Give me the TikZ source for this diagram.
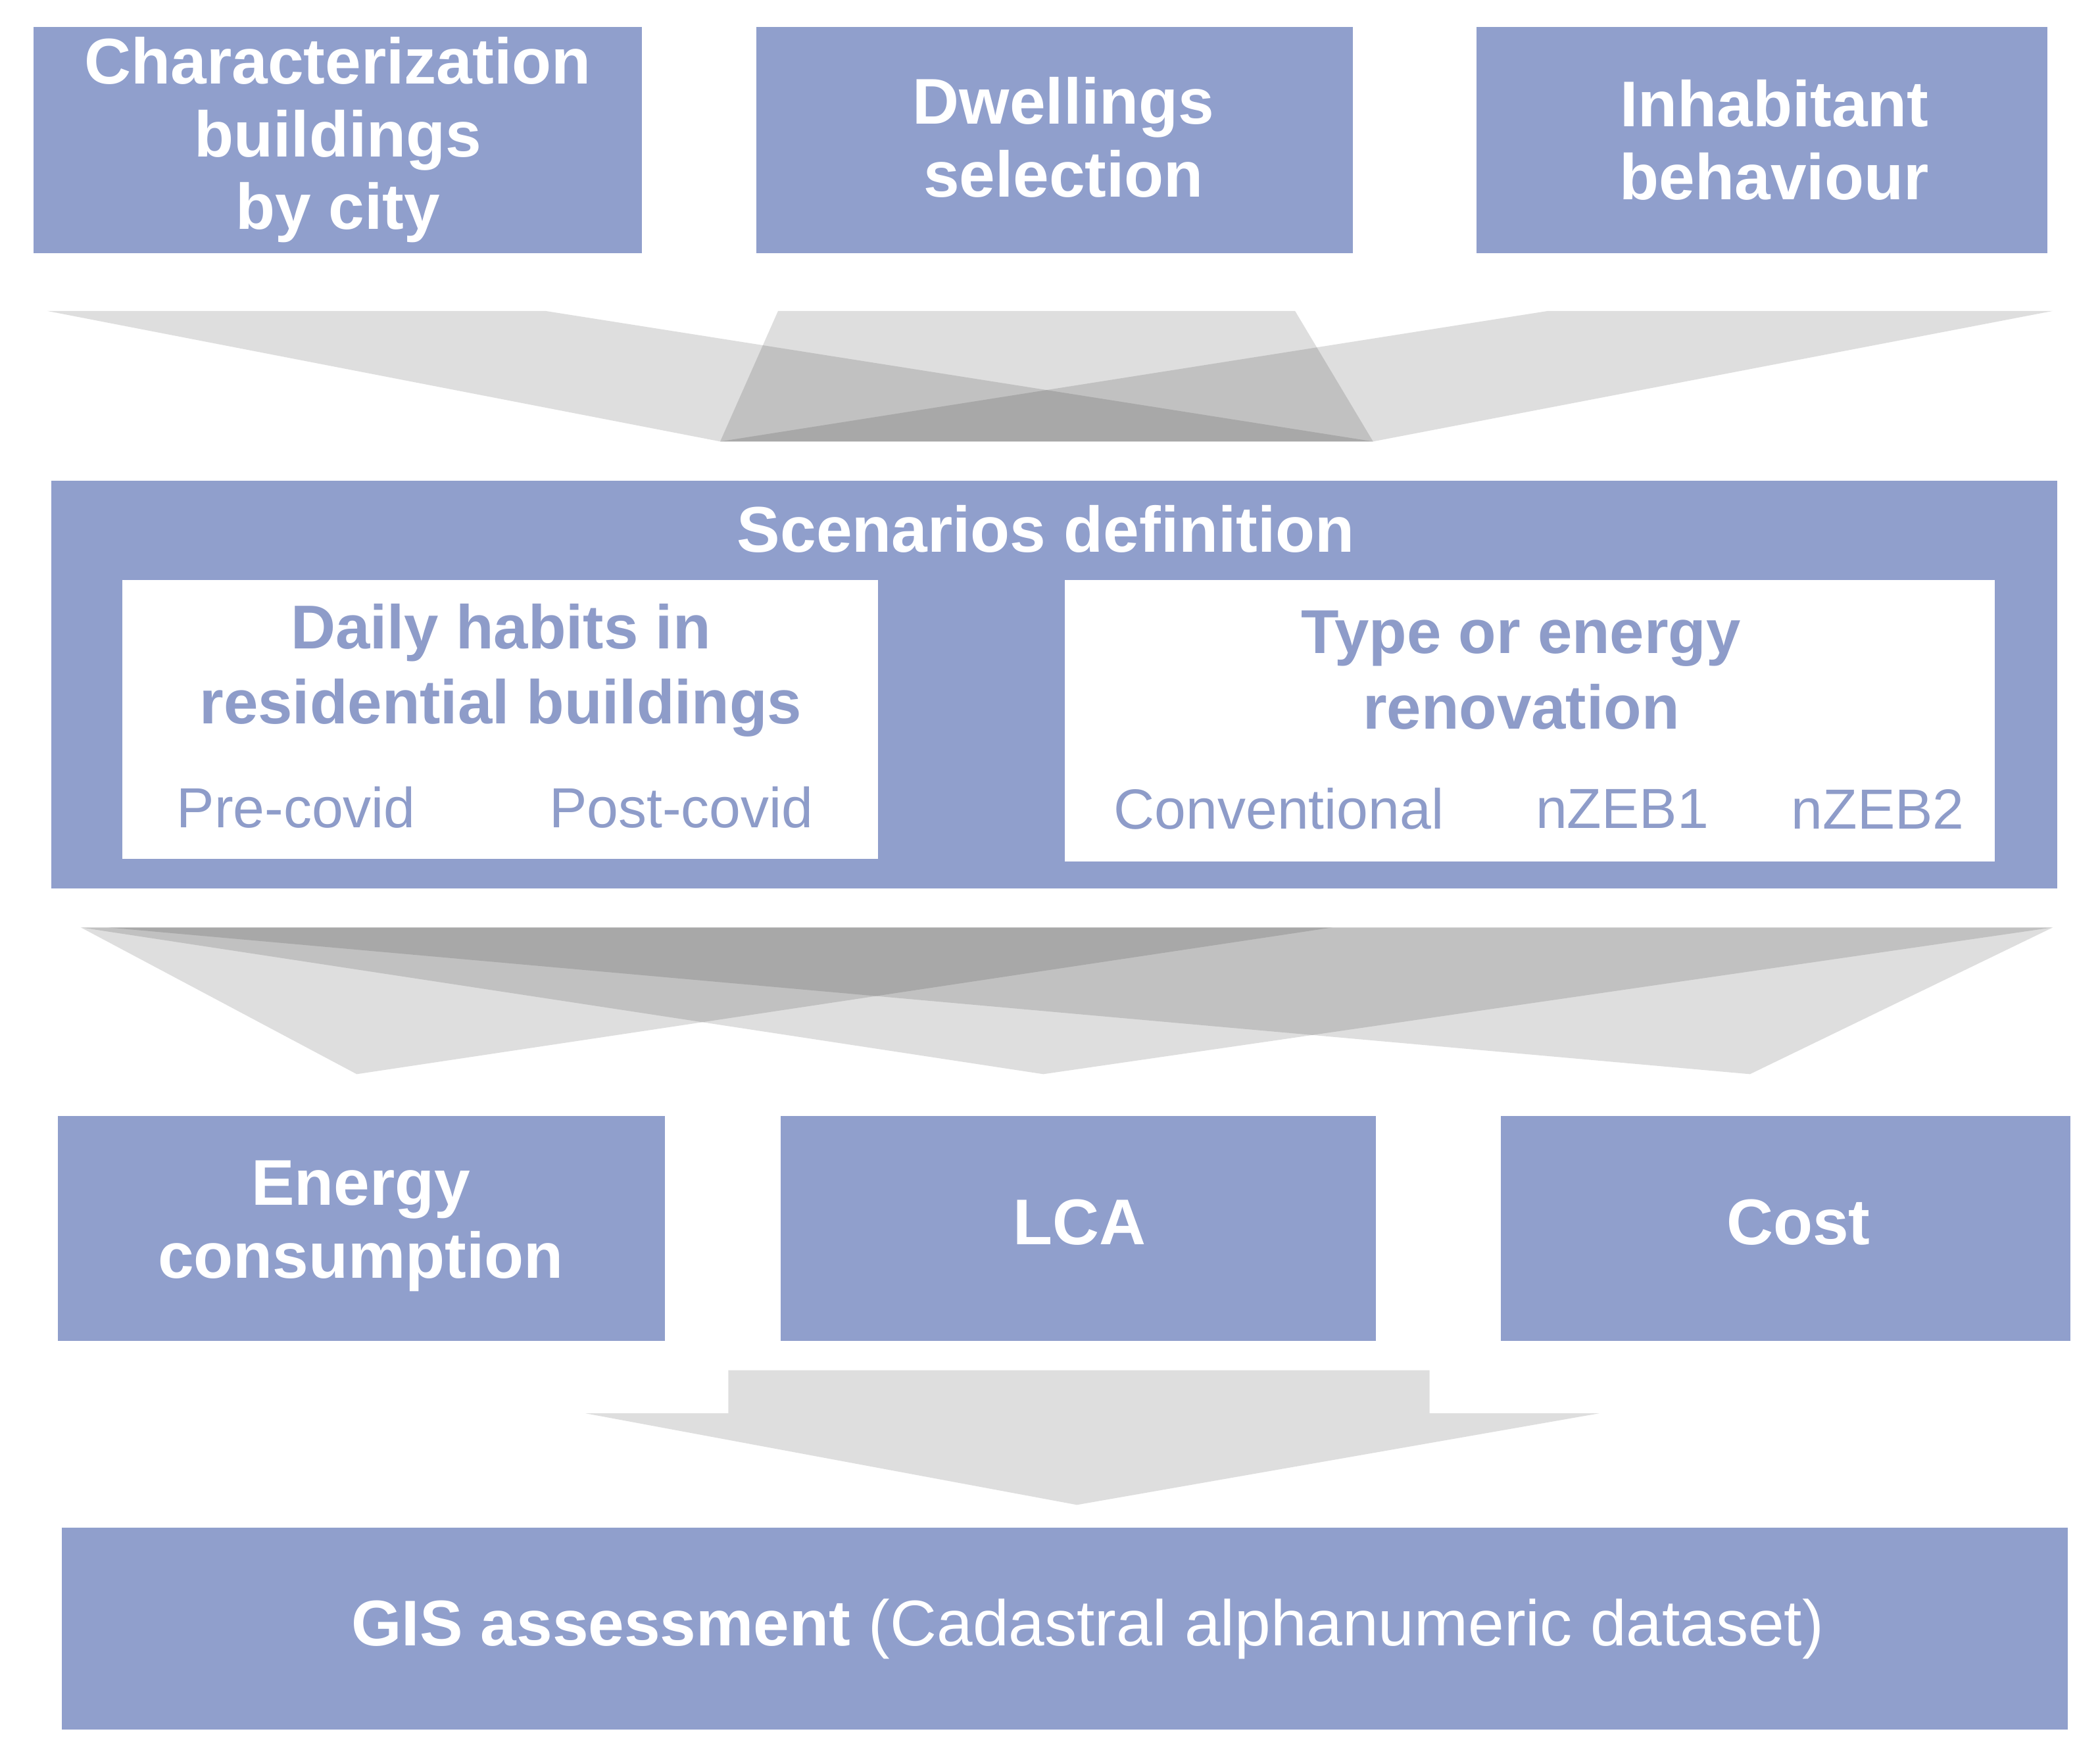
\documentclass[tikz,border=0pt]{standalone}
\usepackage{fontspec}
\setmainfont{Liberation Sans}
\definecolor{boxblue}{HTML}{909FCC}
\definecolor{txtblue}{HTML}{8E9CC9}
\begin{document}
\begin{tikzpicture}[x=1pt,y=-1pt,
  bbox/.style={fill=boxblue,draw=none},
  wbox/.style={fill=white,draw=none},
  btxt/.style={text=white,font=\fontsize{48}{54}\selectfont\bfseries,align=center},
  itxt/.style={text=txtblue,font=\fontsize{46}{56}\selectfont\bfseries,align=center},
  stxt/.style={text=txtblue,font=\fontsize{42}{48}\selectfont},
  fun/.style={fill=black,fill opacity=0.13,draw=none}]
\useasboundingbox (0,0) rectangle (1560,1297);
% top boxes
\fill[bbox] (25,20) rectangle (477,188);
\fill[bbox] (562,20) rectangle (1005,188);
\fill[bbox] (1097,20) rectangle (1521,188);
\node[btxt] (c1) at (251,104) {Characterization\\buildings\\by city};
\node[btxt] (c2) at (790,102) {Dwellings\\selection};
\node[btxt] (c3) at (1318,104) {Inhabitant\\behaviour};
% funnel 1
\fill[fun] (35,231) -- (405,231) -- (1020,328) -- (535,328) -- cycle;
\fill[fun] (578,231) -- (962,231) -- (1020,328) -- (535,328) -- cycle;
\fill[fun] (1150,231) -- (1525,231) -- (1020,328) -- (535,328) -- cycle;
% scenarios
\fill[bbox] (38,357) rectangle (1528,660);
\node[btxt] (sd) at (777,393) {Scenarios definition};
\fill[wbox] (91,431) rectangle (652,638);
\fill[wbox] (791,431) rectangle (1482,640);
\node[itxt] (dh) at (372,498) {Daily habits in\\residential buildings};
\node[stxt] (pre) at (220,600) {Pre-covid};
\node[stxt] (post) at (506,600) {Post-covid};
\node[itxt] (te) at (1130,498) {Type or energy\\renovation};
\node[stxt] (conv) at (950,601) {Conventional};
\node[stxt] (z1) at (1205,601) {nZEB1};
\node[stxt] (z2) at (1395,601) {nZEB2};
% funnel 2
\fill[fun] (60,689) -- (990,689) -- (265,798) -- cycle;
\fill[fun] (60,689) -- (1525,689) -- (775,798) -- cycle;
\fill[fun] (80,689) -- (1525,689) -- (1300,798) -- cycle;
% bottom boxes
\fill[bbox] (43,829) rectangle (494,996);
\fill[bbox] (580,829) rectangle (1022,996);
\fill[bbox] (1115,829) rectangle (1538,996);
\node[btxt] (ec) at (268,911) {Energy\\consumption};
\node[btxt] (lca) at (802,908) {LCA};
\node[btxt] (cost) at (1336,908) {Cost};
% arrow
\fill[fun] (541,1018) -- (1062,1018) -- (1062,1050) -- (1188,1050) -- (800,1118) -- (435,1050) -- (541,1050) -- cycle;
% GIS
\fill[bbox] (46,1135) rectangle (1536,1285);
\node[text=white,font=\fontsize{48}{54}\selectfont] (gis) at (808,1210) {\textbf{GIS assessment} (Cadastral alphanumeric dataset)};
\end{tikzpicture}
\end{document}
